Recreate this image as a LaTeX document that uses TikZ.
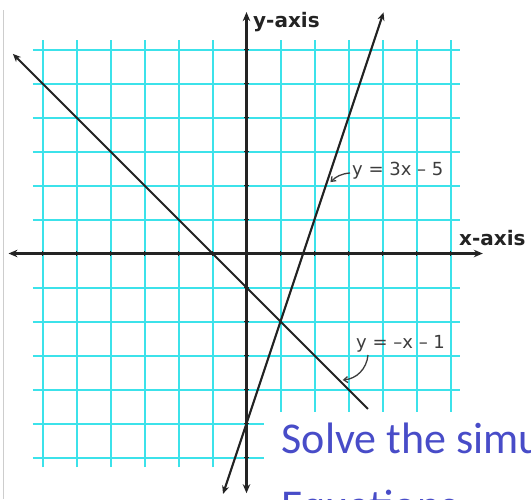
\documentclass[tikz,border=0pt]{standalone}
\usepackage{fontspec}
\usetikzlibrary{arrows.meta}
\newfontfamily\labfont{DejaVu Sans}
\newfontfamily\bluefont{Carlito}
\definecolor{gridcyan}{RGB}{60,226,234}
\definecolor{axisgray}{RGB}{35,35,35}
\definecolor{labgray}{RGB}{60,60,60}
\definecolor{titleblue}{RGB}{72,76,200}
\definecolor{framegray}{RGB}{205,205,205}
\tikzset{
  gridline/.style={gridcyan, line width=2pt},
  axisline/.style={axisgray, line width=2.1pt},
  graphline/.style={axisgray, line width=2.1pt},
  tickmark/.style={axisgray, line width=1.8pt},
  axistip/.tip={Stealth[length=9pt,width=7.5pt]},
  linetip/.tip={Stealth[length=8pt,width=7pt,inset=2.5pt]},
  axislabel/.style={font=\labfont\bfseries\fontsize{20}{24}\selectfont, text=axisgray, inner sep=0pt, anchor=base west},
  eqlabel/.style={font=\labfont\fontsize{18}{21}\selectfont, text=labgray, inner sep=0pt, anchor=base west},
  pointer/.style={labgray, line width=1.3pt, -{Straight Barb[length=4pt,width=6pt]}},
  titletext/.style={font=\bluefont\fontsize{44}{67}\selectfont, text=titleblue, inner sep=0pt, anchor=base west},
}
\begin{document}
\begin{tikzpicture}[x=1pt,y=-1pt]
\clip (0,0) rectangle (531,499);
\fill[white] (0,0) rectangle (531,499);
\draw[framegray, line width=1pt] (3,10) -- (3,499);
\begin{scope}[shift={(246.5pt,-253.5pt)}, x=34pt, y=34pt]
  % grid
  \foreach \k in {-6,-5,-4,-3,-2,-1,1,2,3,4,5,6} {
    \draw[gridline] (\k,-6.28) -- (\k,6.28);
    \draw[gridline] (-6.28,\k) -- (6.28,\k);
  }
  % axes
  \coordinate (xl) at (-7.0,0);
  \coordinate (xr) at (6.95,0);
  \coordinate (yt) at (0,7.1);
  \coordinate (yb) at (0,-7.05);
  \draw[axisline, axistip-axistip] (xl) -- (xr);
  \draw[axisline, axistip-axistip] (yt) -- (yb);
  \foreach \k in {-6,-5,-4,-3,-2,-1,1,2,3,4,5,6} {
    \draw[tickmark] (\k,-0.07) -- (\k,0.07);
    \draw[tickmark] (-0.07,\k) -- (0.07,\k);
  }
  % y = -x - 1
  \coordinate (pA) at (-6.87,5.87);
  \coordinate (pB) at (3.57,-4.57);
  \draw[graphline, linetip-] (pA) -- (pB);
  % y = 3x - 5
  \coordinate (qA) at (-0.69,-7.07);
  \coordinate (qB) at (4.03,7.09);
  \draw[graphline, linetip-linetip] (qA) -- (qB);
  % pointer targets
  \coordinate (tA) at (2.47,2.1);
  \coordinate (tB) at (2.83,-3.72);
\end{scope}
% labels
\node[axislabel] (ylab) at (253,27) {y-axis};
\node[axislabel] (xlab) at (459,245) {x-axis};
\node[eqlabel] (eqA) at (352,175) {y = 3x – 5};
\node[eqlabel] (eqB) at (356,348) {y = –x – 1};
\draw[pointer] ([xshift=-2pt,yshift=2pt]eqA.base west) to[bend right=20] (tA);
\draw[pointer] ([xshift=12pt,yshift=-7pt]eqB.base west) to[bend left=40] (tB);
% overlay box with text
\fill[white] (264,412) rectangle (531,499);
\node[titletext] (title1) at (281.5,453) {Solve the simultaneous};
\node[titletext] (title2) at (281.5,520) {Equations};
\end{tikzpicture}
\end{document}
